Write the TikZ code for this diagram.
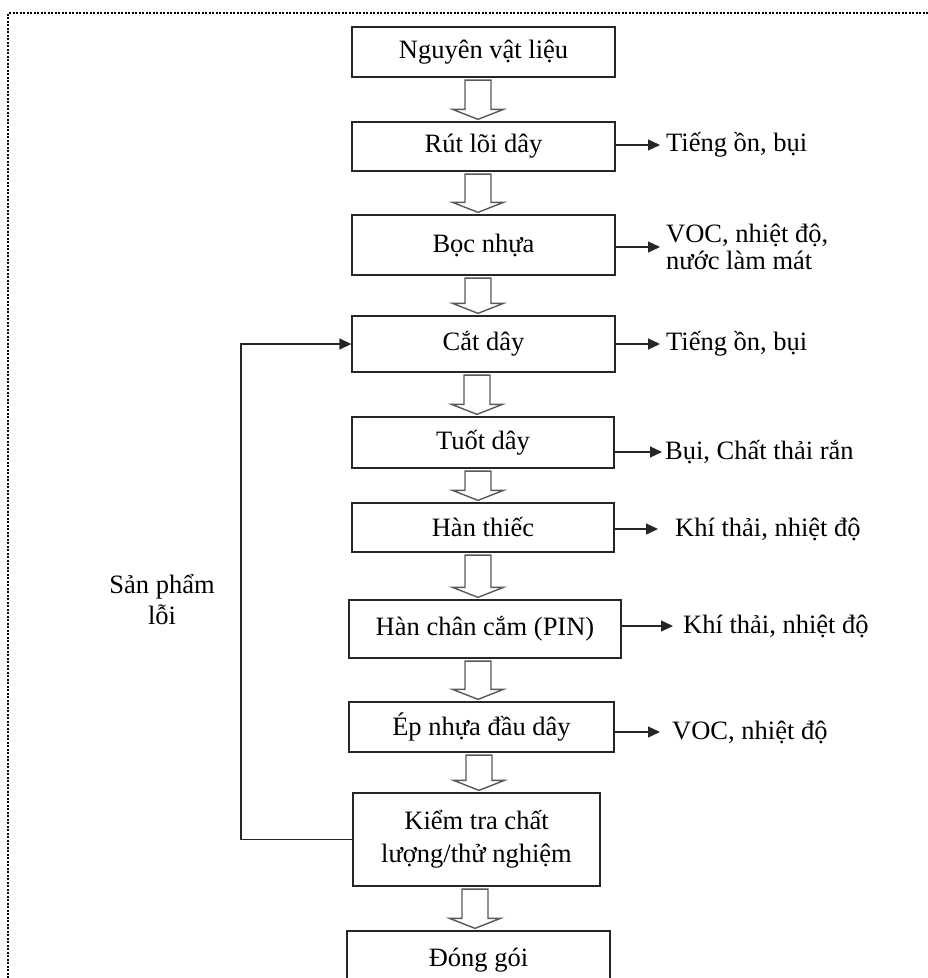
\documentclass[tikz,border=0pt]{standalone}
\usepackage{fontspec}
\setmainfont{Liberation Serif}
\usetikzlibrary{arrows.meta,calc}
\newcommand\blkarrow[3]{%
  \draw[blk] let \p1=(#1.south), \p2=(#2.north) in
    (#3pt-13pt,\y1-2.5pt) -- (#3pt-13pt,\y2+12pt) -- (#3pt-25.5pt,\y2+12pt) --
    (#3pt,\y2+2pt) -- (#3pt+25.5pt,\y2+12pt) -- (#3pt+13pt,\y2+12pt) --
    (#3pt+13pt,\y1-2.5pt) -- cycle;}
\begin{document}
\begin{tikzpicture}[x=1pt,y=-1pt,
  box/.style={draw=black!85,line width=1.3pt,minimum width=263pt,inner sep=0pt,
    align=center,font=\fontsize{26.5}{32}\selectfont},
  lbl/.style={anchor=west,inner sep=0pt,align=left,font=\fontsize{26.5}{26.5}\selectfont},
  arr/.style={line width=1.3pt,draw=black!85,-{Triangle[length=12pt,width=11pt]}},
  blk/.style={draw=black!65,line width=1.4pt,fill=white}]
\useasboundingbox (0,0) rectangle (928,978);
\clip (0,0) rectangle (928,978);
\draw[line width=2.8pt,dash pattern=on 2pt off 1.5pt] (8,978) -- (8,13) -- (928,13);

% process boxes
\node[box,minimum height=50pt] (b1) at (483.5,52) {Nguyên vật liệu};
\node[box,minimum height=49pt] (b2) at (483.5,146.5) {Rút lõi dây};
\node[box,minimum height=60pt] (b3) at (483.5,245) {Bọc nhựa};
\node[box,minimum height=56pt] (b4) at (483.5,344) {Cắt dây};
\node[box,minimum width=262pt,minimum height=51pt] (b5) at (483,442.5) {Tuốt dây};
\node[box,minimum width=262pt,minimum height=49pt] (b6) at (483,527.5) {Hàn thiếc};
\node[box,minimum width=272pt,minimum height=58pt] (b7) at (485,629) {Hàn chân cắm (PIN)};
\node[box,minimum width=265pt,minimum height=50pt] (b8) at (481.5,727) {Ép nhựa đầu dây};
\node[box,minimum width=247pt,minimum height=93pt,font=\fontsize{26.5}{33}\selectfont] (b9) at (476.5,839.5) {Kiểm tra chất\\lượng/thử nghiệm};
\node[box,minimum height=59pt] (b10) at (478.5,960.5) {Đóng gói};

% hollow block arrows
\blkarrow{b1}{b2}{478}
\blkarrow{b2}{b3}{478}
\blkarrow{b3}{b4}{478}
\blkarrow{b4}{b5}{477}
\blkarrow{b5}{b6}{478}
\blkarrow{b6}{b7}{478}
\blkarrow{b7}{b8}{478}
\blkarrow{b8}{b9}{479}
\blkarrow{b9}{b10}{475}

% emission labels
\node[lbl] (t2) at (666,145) {Tiếng ồn, bụi};
\node[lbl] (t3) at (666,247) {VOC, nhiệt độ,\\nước làm mát};
\node[lbl] (t4) at (666,344) {Tiếng ồn, bụi};
\node[lbl] (t5) at (665,452) {Bụi, Chất thải rắn};
\node[lbl] (t6) at (675,529) {Khí thải, nhiệt độ};
\node[lbl] (t7) at (683,626) {Khí thải, nhiệt độ};
\node[lbl] (t8) at (672,732) {VOC, nhiệt độ};

\draw[arr] (b2.east |- t2.west) -- ([xshift=-6pt]t2.west);
\draw[arr] (b3.east |- t3.west) -- ([xshift=-6pt]t3.west);
\draw[arr] (b4.east |- t4.west) -- ([xshift=-6pt]t4.west);
\draw[arr] (b5.east |- t5.west) -- ([xshift=-3pt]t5.west);
\draw[arr] (b6.east |- t6.west) -- ([xshift=-17pt]t6.west);
\draw[arr] (b7.east |- t7.west) -- ([xshift=-10pt]t7.west);
\draw[arr] (b8.east |- t8.west) -- ([xshift=-12pt]t8.west);

% feedback loop
\coordinate (fb) at (241,839.5);
\draw[arr] (b9.west) -- (fb) |- (b4.west);
\node[inner sep=0pt,align=center,font=\fontsize{26.5}{31}\selectfont] (sp) at (162,600) {Sản phẩm\\lỗi};
\end{tikzpicture}
\end{document}
